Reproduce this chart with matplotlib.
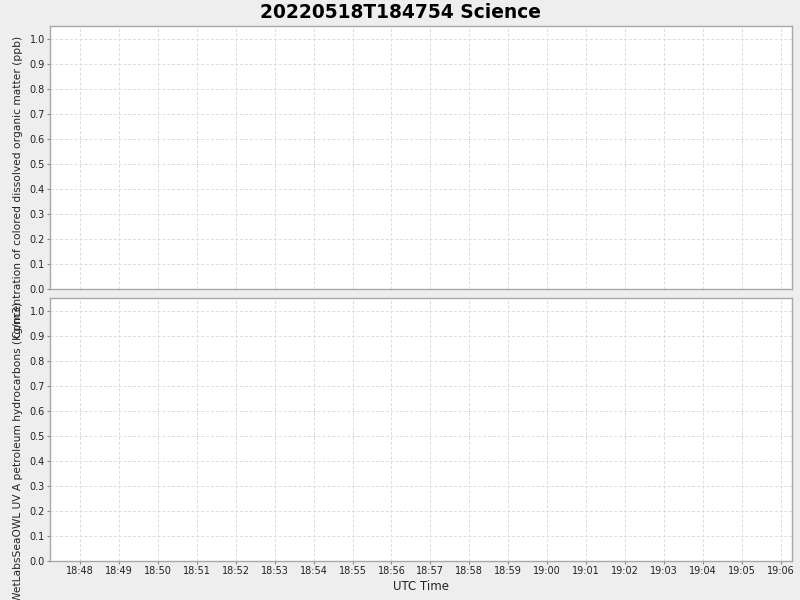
import datetime as dt
import matplotlib
matplotlib.use('Agg')
from matplotlib import pyplot as plt
import matplotlib.dates as mdates

# no samples recorded in this window
cdom_times = []
cdom_values = []
oil_times = []
oil_values = []

t_start = dt.datetime(2022, 5, 18, 18, 47, 14)
t_end = dt.datetime(2022, 5, 18, 19, 6, 17)
y_range = (0.0, 1.052)
y_ticks = [0.0, 0.1, 0.2, 0.3, 0.4, 0.5, 0.6, 0.7, 0.8, 0.9, 1.0]

title = '20220518T184754 Science'
top_label = 'Concentration of colored dissolved organic matter (ppb)'
bottom_label = 'WetLabsSeaOWL UV A petroleum hydrocarbons (kg/m3)'

fig = plt.figure(figsize=(8, 6), dpi=100, facecolor='#eeeeee')
ax1 = fig.add_axes([0.0625, 0.51833, 0.9275, 0.43833])
ax2 = fig.add_axes([0.0625, 0.065, 0.9275, 0.43833], sharex=ax1)

ax1.plot(cdom_times, cdom_values, color='red')
ax2.plot(oil_times, oil_values, color='red')

for ax in (ax1, ax2):
    ax.set_facecolor('white')
    ax.set_xlim(t_start, t_end)
    ax.set_ylim(*y_range)
    ax.set_yticks(y_ticks)
    ax.set_yticklabels(['%.1f' % v for v in y_ticks])
    ax.xaxis.set_major_locator(mdates.MinuteLocator())
    ax.xaxis.set_major_formatter(mdates.DateFormatter('%H:%M'))
    ax.grid(True, color='#dcdcdc', linestyle=(0, (3, 2)), linewidth=0.7)
    for s in ax.spines.values():
        s.set_color('#a8a8a8')
        s.set_linewidth(1.0)
    ax.tick_params(colors='#888888', labelcolor='#222222', labelsize=7,
                   length=2.2, width=0.8, pad=1.5)

ax1.tick_params(axis='x', bottom=False, labelbottom=False)

fig.text(0.5, 1 - 12 / 600, title, ha='center', va='center', fontsize=13.4, fontweight='bold')
fig.text(0.5 + 21 / 800, 1 - 586 / 600, 'UTC Time', ha='center', va='center', fontsize=8.5, color='#222222')
fig.text(18 / 800, 1 - 36 / 600, top_label, rotation=90, ha='center', va='top', fontsize=7.7, color='#222222')
fig.text(18 / 800, 1 - 302 / 600, bottom_label, rotation=90, ha='center', va='top', fontsize=7.7, color='#222222')

fig.savefig('out.png', dpi=100, facecolor=fig.get_facecolor())
